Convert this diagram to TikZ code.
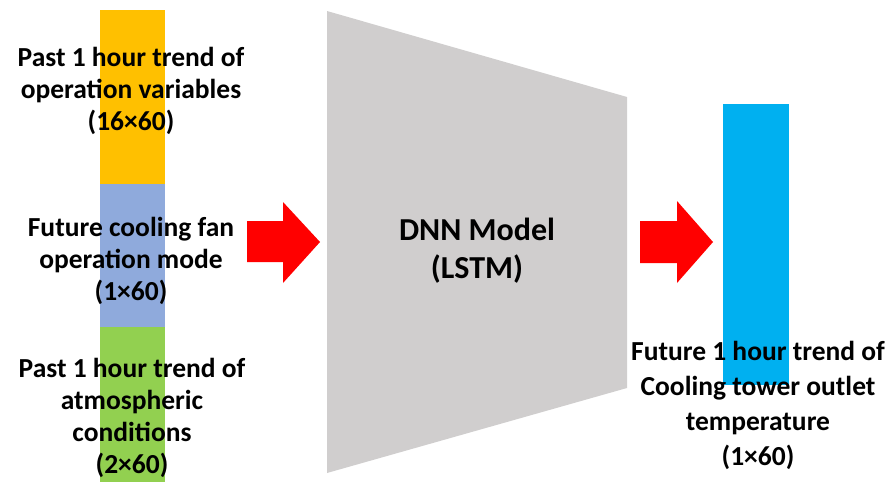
\documentclass[tikz,border=0pt]{standalone}
\usepackage{fontspec}
\setmainfont{Carlito}
\definecolor{cOrange}{HTML}{FFC000}
\definecolor{cBlue}{HTML}{8FAADC}
\definecolor{cGreen}{HTML}{92D050}
\definecolor{cGray}{HTML}{D0CECE}
\definecolor{cRed}{HTML}{FF0000}
\definecolor{cCyan}{HTML}{00B0F0}
\begin{document}
\begin{tikzpicture}[x=1pt,y=-1pt,
  lbl/.style={align=center,font=\fontsize{27.5}{32}\selectfont\bfseries,text=black,inner sep=0pt}]
\useasboundingbox (0,0) rectangle (889,482);
% left stacked bar
\fill[cOrange] (100,10) rectangle (165,184);
\fill[cBlue] (100,184) rectangle (165,327);
\fill[cGreen] (100,327) rectangle (165,482);
% DNN trapezoid
\fill[cGray] (327,11) -- (627,97) -- (627,388) -- (327,473) -- cycle;
% arrows
\fill[cRed] (247,221) -- (283,221) -- (283,202) -- (320,242) -- (283,283) -- (283,262) -- (247,262) -- cycle;
\fill[cRed] (640,221) -- (677,221) -- (677,201) -- (713,242) -- (677,283) -- (677,263) -- (640,263) -- cycle;
% output bar
\fill[cCyan] (723,104) rectangle (789,385);
% labels
\node[lbl] (t1) at (131,91) {Past 1 hour trend of\\operation variables\\(16×60)};
\node[lbl] (t2) at (131,261) {Future cooling fan\\operation mode\\(1×60)};
\node[lbl] (t3) at (132,418) {Past 1 hour trend of\\atmospheric\\conditions\\(2×60)};
\node[lbl,font=\fontsize{32}{38}\selectfont\bfseries] (dnn) at (477,251) {DNN Model\\(LSTM)};
\node[lbl,font=\fontsize{27.5}{35}\selectfont\bfseries] (out) at (758,405) {Future 1 hour trend of\\Cooling tower outlet\\temperature\\(1×60)};
\end{tikzpicture}
\end{document}
